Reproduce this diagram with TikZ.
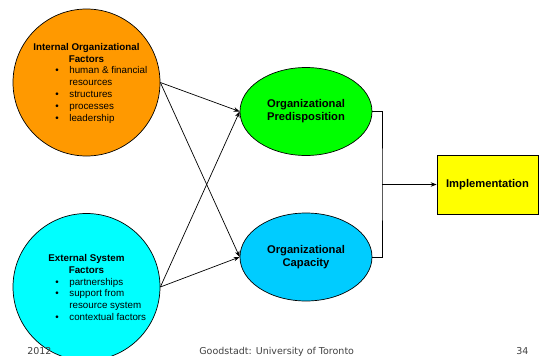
\documentclass[tikz,border=0pt]{standalone}
\usepackage{fontspec}
\setmainfont{Liberation Sans}
\newfontfamily\footfont{DejaVu Sans}
\usepackage{xcolor}
\definecolor{orng}{HTML}{FF9900}
\definecolor{cyn}{HTML}{00FFFF}
\definecolor{grn}{HTML}{00FF00}
\definecolor{blu}{HTML}{00CCFF}
\definecolor{yel}{HTML}{FFFF00}
\definecolor{ftgray}{gray}{0.25}
\usetikzlibrary{shapes.geometric, arrows.meta}

\begin{document}
\begin{tikzpicture}[x=1pt, y=-1pt, line width=0.7pt,
  factor/.style={circle, draw=black, minimum size=147pt, inner sep=0pt},
  driver/.style={ellipse, draw=black, minimum width=132pt, minimum height=88pt, inner sep=0pt, align=center, font=\fontsize{11.2}{13}\selectfont\bfseries},
  heading/.style={anchor=base, inner sep=0pt, font=\fontsize{9.8}{11.8}\selectfont\bfseries},
  item/.style={anchor=base west, inner sep=0pt, font=\fontsize{9.8}{11.8}\selectfont},
  link/.style={-{Stealth[length=6pt, width=4.5pt]}},
  foot/.style={anchor=base west, inner sep=0pt, text=ftgray, font=\footfont\fontsize{9.5}{11}\selectfont}]
\useasboundingbox (0,0) rectangle (539,356);
% internal factors
\node[factor, fill=orng] (internal) at (86.5,82.5) {};
\node[heading] (intA) at (86.5,50.5) {Internal Organizational};
\node[heading] (intB) at (86.5,62.3) {Factors};
\foreach \y/\txt [count=\i] in {74/human \& financial, 85.8/resources, 97.5/structures, 109.3/processes, 121/leadership}{
\node[item] (int\i) at (69,\y) {\txt};
}
\foreach \y [count=\i] in {74, 97.5, 109.3, 121}{
\node[item] (intdot\i) at (55,\y) {\textbullet};
}
% external factors
\node[factor, fill=cyn] (external) at (86.5,287) {};
\node[heading] (extA) at (86.5,261.5) {External System};
\node[heading] (extB) at (86.5,273.3) {Factors};
\foreach \y/\txt [count=\i] in {285/partnerships, 296.8/support from, 308.5/resource system, 320.3/contextual factors}{
\node[item] (ext\i) at (69,\y) {\txt};
}
\foreach \y [count=\i] in {285, 296.8, 320.3}{
\node[item] (extdot\i) at (55,\y) {\textbullet};
}
% middle and result
\node[driver, fill=grn] (predisp) at (306,111.5) {Organizational\\Predisposition};
\node[driver, fill=blu] (capacity) at (306,257) {Organizational\\Capacity};
\node[draw=black, fill=yel, minimum width=101pt, minimum height=59pt, inner sep=0pt, font=\fontsize{11.2}{13}\selectfont\bfseries] (impl) at (487.5,184.5) {Implementation};
\coordinate (join) at (382,184.5);
\foreach \from in {internal, external}{
\draw[link] (\from.east) -- (predisp.west);
\draw[link] (\from.east) -- (capacity.west);
}
\draw (predisp.east) -| (join) |- (capacity.east);
\draw[link] (join) -- (impl.west);
% footer
\node[foot] (year) at (27,354) {2012};
\node[foot] (source) at (199,354) {Goodstadt: University of Toronto};
\node[foot] (page) at (516,354) {34};
\end{tikzpicture}
\end{document}
